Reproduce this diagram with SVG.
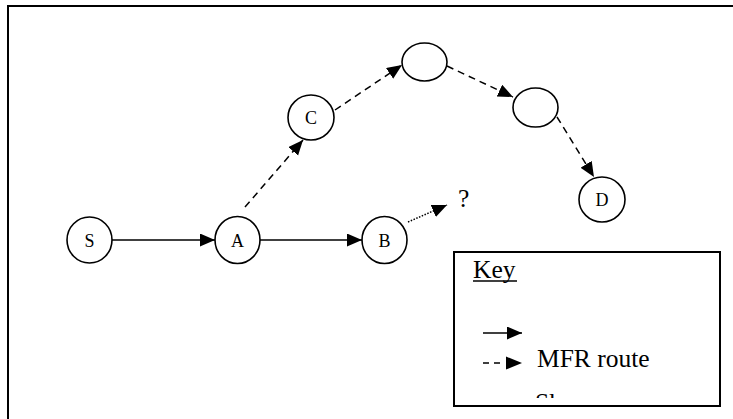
<svg xmlns="http://www.w3.org/2000/svg" width="733" height="419" viewBox="0 0 733 419">
<style>
.node{fill:#fff;stroke:#000;stroke-width:1.6}
.lbl{font-family:"Liberation Serif",serif;font-size:18px;fill:#000;text-anchor:middle}
.solid{stroke:#000;stroke-width:1.5;fill:none;marker-end:url(#ah)}
.dash{stroke:#000;stroke-width:1.5;fill:none;stroke-dasharray:7 5;marker-end:url(#ah)}
.dot{stroke:#000;stroke-width:1.5;fill:none;stroke-dasharray:1.5 1.5;marker-end:url(#ah)}
.key{font-family:"Liberation Serif",serif;font-size:25.5px;fill:#000}
</style>
<defs>
<marker id="ah" markerUnits="userSpaceOnUse" markerWidth="16" markerHeight="14" refX="15" refY="6.5" orient="auto">
<path d="M0,0 L15,6.5 L0,13 Z" fill="#000"/>
</marker>
<clipPath id="kc"><rect x="455" y="253" width="264" height="145"/></clipPath>
</defs>
<rect width="733" height="419" fill="#fff"/>
<g id="frame" fill="none" stroke="#000" stroke-width="2">
<path d="M8,419 L8,6 L733,6"/>
</g>
<g id="connectors">
<line class="solid" x1="112" y1="240" x2="215" y2="240"/>
<line class="solid" x1="260" y1="240" x2="362" y2="240"/>
<line class="dot" x1="408" y1="222" x2="447" y2="205"/>
<line class="dash" x1="245" y1="207" x2="303" y2="140"/>
<line class="dash" x1="335" y1="110" x2="402" y2="65"/>
<line class="dash" x1="447" y1="66" x2="513" y2="97"/>
<line class="dash" x1="557" y1="117" x2="594" y2="177"/>
</g>
<g id="S"><ellipse class="node" cx="89.5" cy="240" rx="22.5" ry="23"/><text class="lbl" x="89.5" y="246.5">S</text></g>
<g id="A"><ellipse class="node" cx="237.5" cy="240" rx="22.5" ry="23.5"/><text class="lbl" x="237.5" y="246.5">A</text></g>
<g id="B"><ellipse class="node" cx="384.5" cy="240" rx="22.5" ry="23.5"/><text class="lbl" x="384.5" y="246.5">B</text></g>
<g id="C"><ellipse class="node" cx="311" cy="117.5" rx="23" ry="22.5"/><text class="lbl" x="311" y="124">C</text></g>
<g id="N1"><ellipse class="node" cx="424.5" cy="62" rx="22.5" ry="19"/></g>
<g id="N2"><ellipse class="node" cx="535.5" cy="107.5" rx="22.5" ry="19.5"/></g>
<g id="D"><ellipse class="node" cx="602" cy="199.5" rx="23" ry="22.5"/><text class="lbl" x="602" y="206">D</text></g>
<g id="question"><text class="key" x="458" y="207" font-size="26">?</text></g>
<g id="keybox">
<rect x="454" y="252" width="266" height="154" fill="#fff" stroke="#000" stroke-width="2"/>
<text class="key" x="473" y="278">Key</text>
<line x1="473" y1="281" x2="517" y2="281" stroke="#000" stroke-width="1.5"/>
<line class="solid" x1="483" y1="333" x2="522" y2="333"/>
<line stroke="#000" stroke-width="1.5" stroke-dasharray="6 5" x1="483" y1="363" x2="500" y2="363"/>
<path d="M506,356.5 L522,363 L506,369.5 Z" fill="#000"/>
<text class="key" x="537" y="367">MFR route</text>
<text class="key" x="535" y="411" clip-path="url(#kc)">Sh</text>
</g>
</svg>
